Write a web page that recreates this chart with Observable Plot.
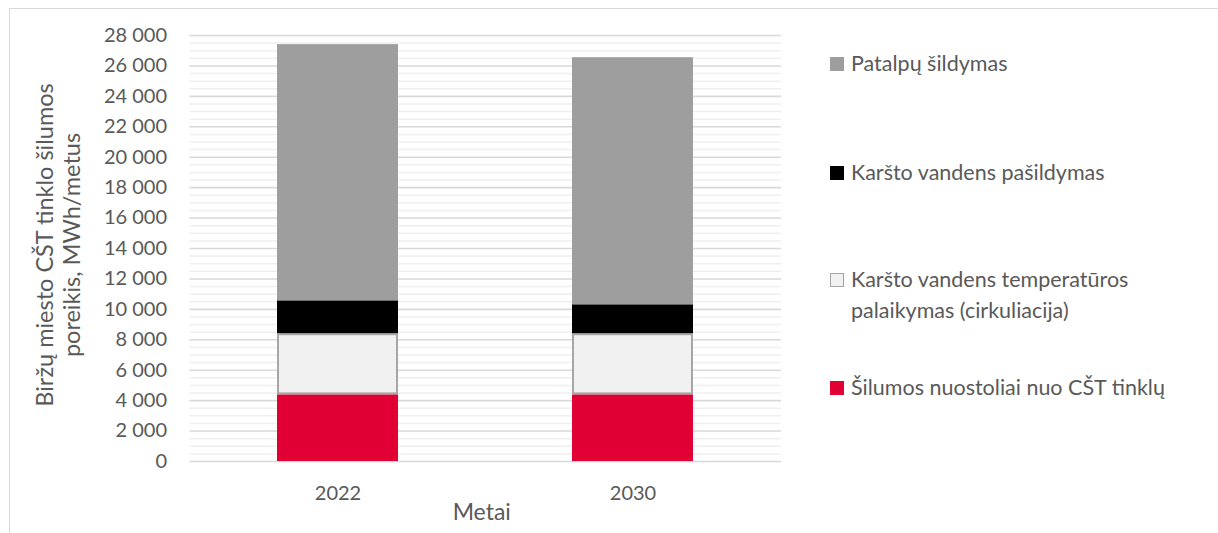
<!DOCTYPE html>
<html><head><meta charset="utf-8">
<script src="https://cdn.jsdelivr.net/npm/d3@7"></script>
<script src="https://cdn.jsdelivr.net/npm/@observablehq/plot@0.6"></script>
<style>
html,body{margin:0;padding:0;background:#fff;overflow:hidden;}
#wrap{position:relative;width:1218px;height:533px;font-family:Lato,sans-serif;color:#595959;}
#frame{position:absolute;left:9px;top:8px;width:1240px;height:560px;border:1px solid #d9d9d9;box-sizing:border-box;pointer-events:none;}
#chart{position:absolute;left:0;top:0;}
#ytitle{position:absolute;left:58px;top:245px;width:440px;transform:translate(-50%,-50%) rotate(-90deg);text-align:center;font-size:23.5px;line-height:27px;color:#595959;white-space:nowrap;}
.li{position:absolute;left:830px;font-size:21.5px;line-height:31px;color:#595959;}
.sw{position:absolute;left:0;width:14px;height:14px;box-sizing:border-box;}
.lt{position:absolute;left:21px;top:0;white-space:nowrap;}
</style>
</head><body>
<div id="wrap">
  <div id="chart"></div>
  <div id="ytitle"></div>
  <div id="legend"></div>
  <div id="frame"></div>
</div>
<script>
const years = ["2022", "2030"];
const seriesNames = [
  "Šilumos nuostoliai nuo CŠT tinklų",
  "Karšto vandens temperatūros palaikymas (cirkuliacija)",
  "Karšto vandens pašildymas",
  "Patalpų šildymas"
];
const lossValues = [4380, 4380];
const circulationValues = [4020, 4020];
const hotWaterValues = [2160, 1900];
const spaceHeatingValues = [16840, 16240];
const seriesColors = ["#e00034", "#f1f1f1", "#000000", "#9e9e9e"];
const yTicks = [0, 2000, 4000, 6000, 8000, 10000, 12000, 14000, 16000, 18000, 20000, 22000, 24000, 26000, 28000];
const yTitleLines = ["Biržų miesto CŠT tinklo šilumos", "poreikis, MWh/metus"];
const xTitle = "Metai";

const valueArrays = [lossValues, circulationValues, hotWaterValues, spaceHeatingValues];
const data = years.flatMap((yr, i) => valueArrays.map((arr, k) => ({year: yr, series: seriesNames[k], value: arr[i]})));
const minorTicks = d3.range(0, 28001, 500).filter(v => !yTicks.includes(v));

const fmt = v => v === 0 ? "0" : d3.format(",")(v).replace(/,/g, " ");

const chart = Plot.plot({
  width: 1218,
  height: 533,
  marginLeft: 189.5,
  marginRight: 437,
  marginTop: 35,
  marginBottom: 72,
  style: {fontFamily: "Lato, sans-serif", fontSize: "20px", color: "#595959", background: "transparent"},
  x: {domain: years, paddingInner: 0.59, paddingOuter: 0.295, label: null, tickSize: 0, tickPadding: 24},
  y: {domain: [0, 28000], ticks: yTicks, tickFormat: fmt, tickSize: 0, tickPadding: 23, label: null},
  color: {domain: seriesNames, range: seriesColors},
  marks: [
    Plot.ruleY(minorTicks, {stroke: "#efefef", strokeWidth: 1.5}),
    Plot.ruleY(yTicks, {stroke: "#d9d9d9", strokeWidth: 1.6}),
    Plot.barY(data, {
      x: "year", y: "value", fill: "series", order: seriesNames,
      stroke: "#a6a6a6",
      strokeWidth: d => d.series === seriesNames[1] ? 2 : 0
    }),
    Plot.text([xTitle], {frameAnchor: "bottom", dy: 58, dx: -4, text: d => d, fontSize: 23, fill: "#595959"})
  ]
});
document.getElementById("chart").appendChild(chart);

// inset the stroked circulation bars so the stroke stays inside
d3.select(chart).selectAll("rect").each(function() {
  const r = d3.select(this);
  if (r.attr("stroke-width") === "2") {
    const x = +r.attr("x"), y = +r.attr("y"), w = +r.attr("width"), h = +r.attr("height");
    r.attr("x", x + 1).attr("y", y + 1).attr("width", w - 2).attr("height", h - 2);
  }
});

document.getElementById("ytitle").innerHTML = yTitleLines.map(t => `<div>${t}</div>`).join("");

const legendOrder = [3, 2, 1, 0];
const legendTops = [48, 157, 264, 372];
const legendTexts = ["Patalpų šildymas", "Karšto vandens pašildymas", "Karšto vandens temperatūros<br>palaikymas (cirkuliacija)", "Šilumos nuostoliai nuo CŠT tinklų"];
const leg = document.getElementById("legend");
legendOrder.forEach((k, i) => {
  const div = document.createElement("div");
  div.className = "li";
  div.style.top = legendTops[i] + "px";
  const border = k === 1 ? "border:1.5px solid #a6a6a6;" : "";
  div.innerHTML = `<div class="sw" style="top:9px;background:${seriesColors[k]};${border}"></div><div class="lt">${legendTexts[i]}</div>`;
  leg.appendChild(div);
});
</script>
</body></html>
